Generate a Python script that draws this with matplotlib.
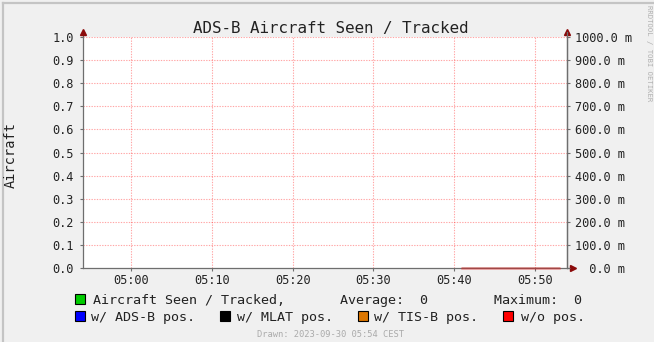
import datetime as dt
import matplotlib
matplotlib.use("Agg")
import matplotlib.pyplot as plt
import matplotlib.dates as mdates
from matplotlib.patches import Rectangle
from matplotlib.lines import Line2D

W, H = 654, 342

# time window (one hour) and samples (rrd only has data for the last minutes)
t_start = dt.datetime(2023, 9, 30, 4, 54)
t_end = dt.datetime(2023, 9, 30, 5, 54)
sample_times = [dt.datetime(2023, 9, 30, 5, m) for m in range(41, 54)]
seen = [0] * 13
adsb = [0] * 13
mlat = [0] * 13
tisb = [0] * 13
nopos = [0] * 13

series_names = ["Aircraft Seen / Tracked,", "w/ ADS-B pos.", "w/ MLAT pos.",
                "w/ TIS-B pos.", "w/o pos."]
series_colors = ["#00cc00", "#0000ff", "#000000", "#dd7700", "#ff0000"]
y_ticks = [0.0, 0.1, 0.2, 0.3, 0.4, 0.5, 0.6, 0.7, 0.8, 0.9, 1.0]
y2_ticks = [0, 100, 200, 300, 400, 500, 600, 700, 800, 900, 1000]
x_ticks = [dt.datetime(2023, 9, 30, 5, m) for m in (0, 10, 20, 30, 40, 50)]

MONO = "DejaVu Sans Mono"
TXT = "#222222"
AXC = "#6e6e6e"
ARROW = "#8b0a0a"
plt.rcParams["font.family"] = MONO


def fx(x):
    return x / W


def fy(y):
    return 1 - y / H


fig = plt.figure(figsize=(W / 100, H / 100), dpi=100, facecolor="#f0f0f0")

# shaded frame (top / left edges)
fig.add_artist(Line2D([fx(3), fx(W)], [fy(3), fy(3)], color="#c4c4c4", lw=1.6))
fig.add_artist(Line2D([fx(3), fx(3)], [fy(3), fy(H)], color="#c4c4c4", lw=1.6))

L, R, T, B = 83, 567, 37, 268
ax = fig.add_axes([fx(L), fy(B), (R - L) / W, (B - T) / H])
ax.set_facecolor("white")
ax.set_xlim(t_start, t_end)
ax.set_ylim(0, 1)

for t in x_ticks:
    ax.axvline(t, color="#ff0000", alpha=0.35, lw=0.8, ls=(0, (1.2, 1.2)), zorder=1)
for v in y_ticks[1:]:
    ax.axhline(v, color="#ff0000", alpha=0.35, lw=0.8, ls=(0, (1.2, 1.2)), zorder=1)

# all series sit at zero; the last one drawn ends up on top of the axis
for vals, c in zip([seen, adsb, mlat, tisb], series_colors[:4]):
    ax.plot(sample_times, vals, color=c, lw=0.8, zorder=2)
ax.plot(sample_times, nopos, color=series_colors[4], lw=1.8, alpha=0.35,
        zorder=5, clip_on=False)

ax.set_xticks(x_ticks)
ax.xaxis.set_major_formatter(mdates.DateFormatter("%H:%M"))
ax.set_yticks(y_ticks)
ax.set_yticklabels([f"{v:.1f}" for v in y_ticks])
ax.tick_params(axis="x", length=2.5, width=0.8, color=AXC, pad=1.5,
               labelsize=8.6, labelcolor=TXT)
ax.tick_params(axis="y", length=2.5, width=0.8, color=AXC, pad=4,
               labelsize=8.6, labelcolor=TXT)
ax.spines["top"].set_visible(False)
for s in ("left", "bottom", "right"):
    ax.spines[s].set_color(AXC)
    ax.spines[s].set_linewidth(0.9)
    ax.spines[s].set_zorder(3)
ax.spines["bottom"].set_bounds(mdates.date2num(t_start),
                               mdates.date2num(t_end + dt.timedelta(minutes=0.5)))
ax.spines["left"].set_bounds(0, 1.02)

fig.text(fx(11), fy(155), "Aircraft", rotation=90, ha="center", va="center",
         fontsize=9.8, color=TXT)

ax2 = ax.twinx()
ax2.set_ylim(0, 1000)
ax2.set_yticks(y2_ticks)
ax2.set_yticklabels([f"{v:5.1f} m" for v in y2_ticks])
ax2.tick_params(axis="y", length=2.5, width=0.8, color=AXC, pad=3,
                labelsize=8.6, labelcolor=TXT)
for lab in ax2.get_yticklabels():
    lab.set_horizontalalignment("left")
for s in ("top", "left", "bottom"):
    ax2.spines[s].set_visible(False)
ax2.spines["right"].set_color(AXC)
ax2.spines["right"].set_linewidth(0.9)
ax2.spines["right"].set_bounds(0, 1020)

# axis arrows
ax.plot([0], [1.02], marker="^", ms=4, color=ARROW, transform=ax.transAxes,
        clip_on=False, zorder=6)
ax.plot([1], [1.02], marker="^", ms=4, color=ARROW, transform=ax.transAxes,
        clip_on=False, zorder=6)
ax.plot([1.012], [0], marker=">", ms=4, color=ARROW, transform=ax.transAxes,
        clip_on=False, zorder=6)

fig.text(fx(331), fy(33), "ADS-B Aircraft Seen / Tracked", ha="center",
         va="baseline", fontsize=11.4, color=TXT)


# legend
def swatch(x, y, color):
    fig.add_artist(Rectangle((fx(x), fy(y + 10)), 10 / W, 10 / H,
                             facecolor=color, edgecolor="black", lw=0.8,
                             transform=fig.transFigure))


legend_rows = [
    [(75, 93, 0)],
    [(75, 91, 1), (220, 237, 2), (358, 374, 3), (503, 521, 4)],
]
row_base = [304, 321]
for row, base in zip(legend_rows, row_base):
    for sx, tx, i in row:
        swatch(sx, base - 10, series_colors[i])
        fig.text(fx(tx), fy(base), series_names[i], ha="left", va="baseline",
                 fontsize=9.6, color=TXT)
fig.text(fx(340), fy(304), "Average:  0", ha="left", va="baseline",
         fontsize=9.6, color=TXT)
fig.text(fx(494), fy(304), "Maximum:  0", ha="left", va="baseline",
         fontsize=9.6, color=TXT)
fig.text(fx(257), fy(337), "Drawn: 2023-09-30 05:54 CEST", ha="left",
         va="baseline", fontsize=6.3, color="#aaaaaa")
fig.text(fx(649.5), fy(5), "RRDTOOL / TOBI OETIKER", ha="center", va="top",
         rotation=270, fontsize=5.2, color="#b0b0b0")

fig.savefig("out.png", dpi=100, facecolor=fig.get_facecolor())
